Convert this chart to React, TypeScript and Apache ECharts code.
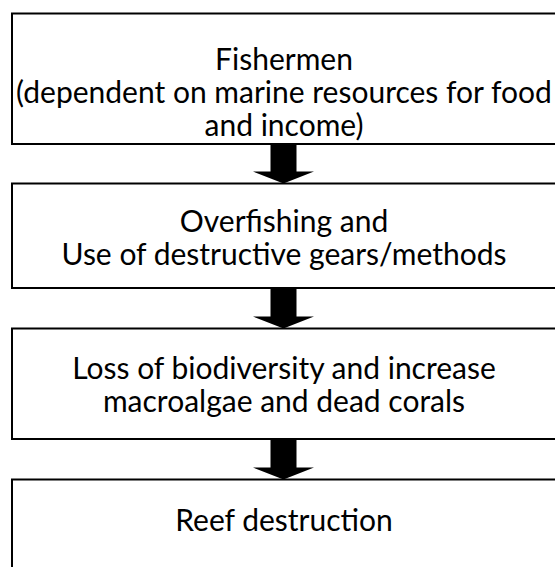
import React, { useEffect, useRef } from "react";
import * as echarts from "echarts";

// Flow steps (text of each box, top to bottom)
const stepTitles: string[] = [
  "Fishermen",
  "Overfishing and",
  "Loss of biodiversity and increase",
  "Reef destruction",
];
const stepDetails: string[][] = [
  ["(dependent on marine resources for food", "and income)"],
  ["Use of destructive gears/methods"],
  ["macroalgae and dead corals"],
  [],
];

// Layout (pixels)
const BOX_LEFT = 12;
const BOX_RIGHT = 560;
const boxTops = [13.5, 183.5, 328.5, 479.5];
const boxBottoms = [144, 288, 439, 620];
const textCenters = [90.5, 236, 383, 519];
const lineSpacing = [33, 33, 33, 33];
const ARROW_CX = 283.5;
const SHAFT_HALF = 13;
const HEAD_HALF = 30.5;
const HEAD_H = 12;
const FONT = "Lato";
const FONT_SIZE = 30;

export default function App() {
  const ref = useRef<HTMLDivElement>(null);
  useEffect(() => {
    if (!ref.current) return;
    const chart = echarts.init(ref.current, undefined, { renderer: "svg" });
    const elements: any[] = [];
    stepTitles.forEach((title, i) => {
      const top = boxTops[i];
      const bottom = boxBottoms[i];
      elements.push({
        type: "rect",
        shape: { x: BOX_LEFT, y: top, width: BOX_RIGHT - BOX_LEFT, height: bottom - top },
        style: { fill: "#ffffff", stroke: "#000000", lineWidth: 2 },
        z: 1,
      });
      const lines = [title, ...stepDetails[i]];
      const n = lines.length;
      lines.forEach((line, j) => {
        const y = textCenters[i] + (j - (n - 1) / 2) * lineSpacing[i];
        elements.push({
          type: "text",
          x: (BOX_LEFT + 555) / 2 + 0.5,
          y,
          z: 3,
          style: {
            text: line,
            fill: "#000000",
            fontSize: FONT_SIZE,
            fontFamily: FONT,
            lineHeight: 30,
            align: "center",
            verticalAlign: "middle",
          },
        });
      });
      if (i < stepTitles.length - 1) {
        const b = bottom + 1;
        const t = boxTops[i + 1];
        const hs = t - HEAD_H;
        elements.push({
          type: "polygon",
          z: 2,
          shape: {
            points: [
              [ARROW_CX - SHAFT_HALF, b],
              [ARROW_CX + SHAFT_HALF, b],
              [ARROW_CX + SHAFT_HALF, hs],
              [ARROW_CX + HEAD_HALF, hs],
              [ARROW_CX, t],
              [ARROW_CX - HEAD_HALF, hs],
              [ARROW_CX - SHAFT_HALF, hs],
            ],
          },
          style: { fill: "#000000", stroke: "none" },
        });
      }
    });
    chart.setOption({
      animation: false,
      backgroundColor: "#ffffff",
      graphic: { elements },
    });
    return () => chart.dispose();
  }, []);
  return (
    <div
      ref={ref}
      style={{ position: "fixed", left: 0, top: 0, width: 555, height: 567 }}
    />
  );
}
